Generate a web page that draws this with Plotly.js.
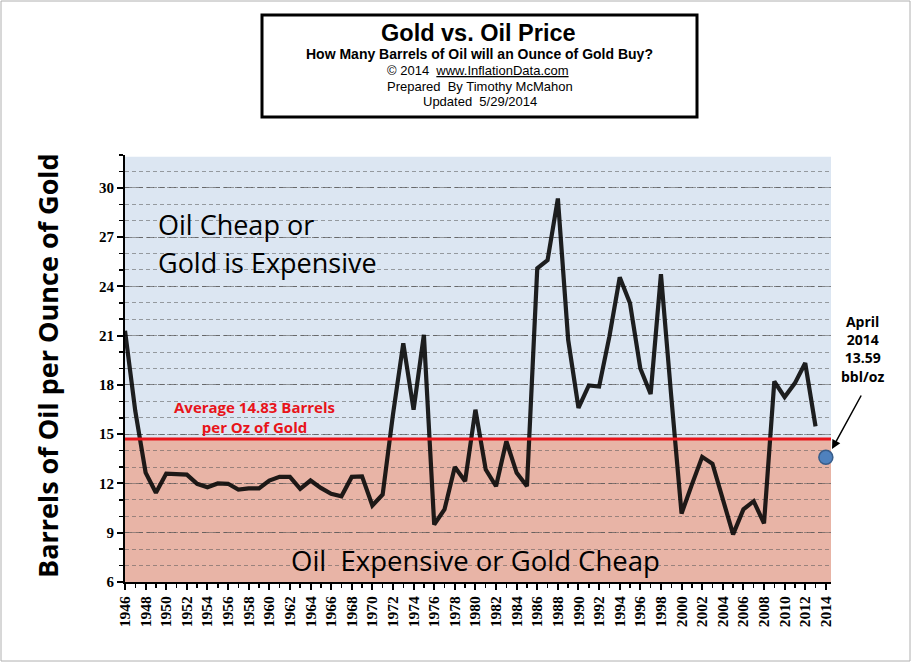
<!DOCTYPE html>
<html><head><meta charset="utf-8">
<script src="https://cdn.plot.ly/plotly-3.0.1.min.js"></script>
<style>html,body{margin:0;padding:0;background:#fff}#chart{width:911px;height:662px}</style>
</head><body><div id="chart"></div>
<script>
const years = [];
for (let y = 1946; y <= 2013; y++) years.push(y);
const ratio = [21.3,16.4,12.66,11.43,12.6,12.6,12.54,11.98,11.77,12.0,11.98,11.63,11.7,11.7,12.18,12.4,12.4,11.67,12.18,11.73,11.37,11.22,12.4,12.43,
  10.66,11.33,16.2,20.54,16.49,21.05,9.5,10.42,13.0,12.14,16.49,12.85,11.83,14.57,12.65,11.83,25.1,25.6,29.35,20.74,16.6,17.97,17.9,
  20.95,24.55,22.97,19.0,17.45,24.75,17.3,10.17,11.93,13.62,13.2,11.02,8.9,10.42,10.92,9.57,18.21,17.26,18.11,19.33,15.48];
const latestYear = [2014];
const latestValue = [13.59];
const averageLine = 14.7;
const yTickVals = [6,9,12,15,18,21,24,27,30];
const xTickVals = [];
for (let y = 1946; y <= 2014; y += 2) xTickVals.push(y);

const L = 125, R = 831, T = 155, B = 582;
const px = x => (x - L) / (R - L);
const py = y => (B - y) / (B - T);

const traces = [
  {x: years, y: ratio, type: 'scatter', mode: 'lines', line: {color: 'rgba(8,8,8,0.9)', width: 4.2}, hoverinfo: 'skip'},
  {x: latestYear, y: latestValue, type: 'scatter', mode: 'markers', marker: {color: '#4f81bd', size: 14, line: {color: '#385d8a', width: 1.5}}, cliponaxis: false}
];

const ann = (x, y, text, font, extra) => Object.assign({xref: 'paper', yref: 'paper', x: px(x), y: py(y), xanchor: 'center', yanchor: 'middle', text, showarrow: false, font}, extra || {});

const layout = {
  width: 911, height: 662,
  margin: {l: L, r: 911 - R, t: T, b: 662 - B},
  paper_bgcolor: '#fff', plot_bgcolor: '#fff',
  showlegend: false,
  xaxis: {
    range: [1946, 2014.5], tickvals: xTickVals, ticktext: xTickVals.map(String), tickangle: -90,
    ticks: 'outside', ticklen: 6, tickwidth: 2, tickcolor: '#000',
    minor: {dtick: 1, tick0: 1946, ticks: 'outside', ticklen: 4, tickwidth: 1.5, tickcolor: '#000'},
    showline: true, linecolor: '#000', linewidth: 2, showgrid: false, zeroline: false,
    tickfont: {family: 'Liberation Serif', size: 15.5, color: '#000', weight: 'bold'}
  },
  yaxis: {
    range: [6, 32], tickvals: yTickVals, ticks: 'outside', ticklen: 6, tickwidth: 2, tickcolor: '#000',
    minor: {dtick: 1, tick0: 6, ticks: 'outside', ticklen: 4, tickwidth: 1.5, tickcolor: '#000', showgrid: true, gridcolor: 'rgba(90,90,90,0.55)', griddash: '4px,3px', gridwidth: 1},
    showgrid: true, gridcolor: 'rgba(80,80,80,0.65)', griddash: '7px,4px', gridwidth: 1,
    showline: true, linecolor: '#000', linewidth: 2, zeroline: false,
    tickfont: {family: 'Liberation Serif', size: 15, color: '#000', weight: 'bold'}
  },
  shapes: [
    {type: 'rect', xref: 'paper', yref: 'y', x0: 0, x1: 1, y0: averageLine, y1: 31.9, fillcolor: '#dce6f2', line: {width: 0}, layer: 'below'},
    {type: 'rect', xref: 'paper', yref: 'y', x0: 0, x1: 1, y0: 6, y1: averageLine, fillcolor: '#e8b4a6', line: {width: 0}, layer: 'below'},
    {type: 'line', xref: 'paper', yref: 'y', x0: 0, x1: 1, y0: averageLine, y1: averageLine, line: {color: '#e8141a', width: 3}},
    {type: 'rect', xref: 'paper', yref: 'paper', x0: px(262), x1: px(697), y0: py(117), y1: py(15), line: {color: '#000', width: 3}, fillcolor: 'rgba(0,0,0,0)'},
    {type: 'rect', xref: 'paper', yref: 'paper', x0: px(1), x1: px(910), y0: py(661), y1: py(1), line: {color: '#b0b0b0', width: 1}, fillcolor: 'rgba(0,0,0,0)'}
  ],
  annotations: [
    ann(478, 33, 'Gold vs. Oil Price', {family: 'Liberation Sans', size: 23.5, color: '#000', weight: 'bold'}),
    ann(479, 54, 'How Many Barrels of Oil will an Ounce of Gold Buy?', {family: 'Liberation Sans', size: 14, color: '#000', weight: 'bold'}),
    ann(478, 70, '© 2014  <u>www.InflationData.com</u>', {family: 'Liberation Sans', size: 13, color: '#000'}),
    ann(480, 86, 'Prepared  By Timothy McMahon', {family: 'Liberation Sans', size: 13, color: '#000'}),
    ann(480, 101, 'Updated  5/29/2014', {family: 'Liberation Sans', size: 13, color: '#000'}),
    ann(47, 366, 'Barrels of Oil per Ounce of Gold', {family: 'Open Sans', size: 27, color: '#000', weight: 'bold'}, {textangle: -90}),
    ann(156, 224, 'Oil Cheap or', {family: 'Open Sans', size: 27, color: '#000'}, {xanchor: 'left'}),
    ann(156, 262, 'Gold is Expensive', {family: 'Open Sans', size: 27, color: '#000'}, {xanchor: 'left'}),
    ann(289, 560, 'Oil  Expensive or Gold Cheap', {family: 'Open Sans', size: 27.5, color: '#000'}, {xanchor: 'left'}),
    ann(254, 416.5, 'Average 14.83 Barrels<br>per Oz of Gold', {family: 'Open Sans', size: 15, color: '#e8141a', weight: 'bold'}),
    ann(863, 349, 'April<br>2014<br>13.59<br>bbl/oz', {family: 'Open Sans', size: 14, color: '#000', weight: 'bold'}),
    {xref: 'paper', yref: 'paper', x: px(832), y: py(449), ax: px(862), ay: py(394), axref: 'paper', ayref: 'paper', text: '', showarrow: true, arrowhead: 2, arrowsize: 1.2, arrowwidth: 1.5, arrowcolor: '#000'}
  ]
};

Plotly.newPlot('chart', traces, layout, {displayModeBar: false, staticPlot: true});
</script>
</body></html>
